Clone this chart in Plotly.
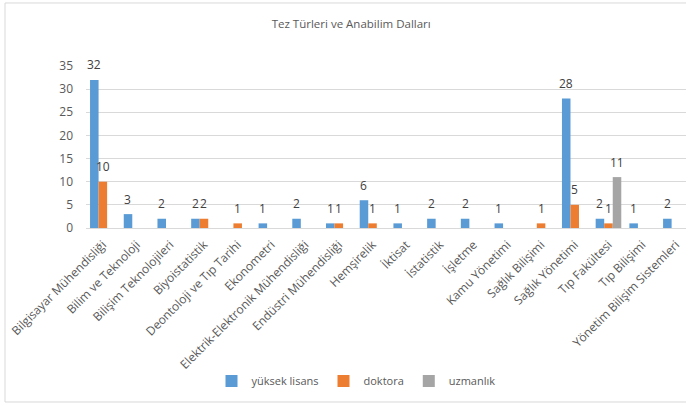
import plotly.graph_objects as go

categories = [
    "Bilgisayar Mühendisliği", "Bilim ve Teknoloji", "Bilişim Teknolojileri",
    "Biyoistatistik", "Deontoloji ve Tıp Tarihi", "Ekonometri",
    "Elektrik-Elektronik Mühendisliği", "Endüstri Mühendisliği", "Hemşirelik",
    "İktisat", "İstatistik", "İşletme", "Kamu Yönetimi", "Sağlık Bilişimi",
    "Sağlık Yönetimi", "Tıp Fakültesi", "Tıp Bilişimi", "Yönetim Bilişim Sistemleri",
]
yuksek_lisans = [32, 3, 2, 2, None, 1, 2, 1, 6, 1, 2, 2, 1, None, 28, 2, 1, 2]
doktora = [10, None, None, 2, 1, None, None, 1, 1, None, None, None, None, 1, 5, 1, None, None]
uzmanlik = [None] * 15 + [11, None, None]

series = [
    ("yüksek lisans", yuksek_lisans, "#5B9BD5"),
    ("doktora", doktora, "#ED7D31"),
    ("uzmanlık", uzmanlik, "#A5A5A5"),
]

FONT = "Open Sans"
TXT = "#595959"

fig = go.Figure()
annotations = []
slot_px = 8.6
for i, (name, vals, color) in enumerate(series):
    fig.add_trace(go.Bar(
        x=categories, y=vals, name=name,
        marker=dict(color=color, line=dict(width=0)),
    ))
    for cat, v in zip(categories, vals):
        if v is None:
            continue
        annotations.append(dict(
            x=cat, y=v, xref="x", yref="y", text=str(v), showarrow=False,
            xshift=(i - 1) * slot_px, yshift=15, yanchor="middle",
            font=dict(family=FONT, size=12, color="#404040"),
        ))

fig.update_layout(
    width=686, height=404,
    margin=dict(l=86, r=0, t=66, b=176, autoexpand=False),
    paper_bgcolor="white", plot_bgcolor="white",
    barmode="group", bargap=0.24, bargroupgap=0,
    font=dict(family=FONT, color=TXT),
    title=dict(text="Tez Türleri ve Anabilim Dalları", x=0.512, xref="container",
               xanchor="center", y=0.94, yanchor="middle",
               font=dict(family=FONT, size=11.5, color=TXT)),
    xaxis=dict(range=[-0.5, 17.3], tickangle=-45, automargin=False,
               tickfont=dict(family=FONT, size=12, color=TXT),
               showline=True, linecolor="#D9D9D9", linewidth=1,
               showgrid=False, ticks="", ticklabelstandoff=4),
    yaxis=dict(range=[0, 35], dtick=5, automargin=False,
               tickfont=dict(family=FONT, size=12, color=TXT),
               gridcolor="#D9D9D9", gridwidth=1, zeroline=False,
               showline=False, ticklabelstandoff=12),
    legend=dict(orientation="h", x=0.45, xanchor="center", y=-0.944, yanchor="middle",
                font=dict(family=FONT, size=11, color=TXT), itemwidth=30,
                bgcolor="rgba(0,0,0,0)"),
    annotations=annotations,
    shapes=[dict(type="rect", xref="paper", yref="paper",
                 x0=-0.135, x1=1.05, y0=-1.074, y1=1.389,
                 line=dict(color="#D9D9D9", width=1), fillcolor="rgba(0,0,0,0)",
                 layer="below")],
)

fig.write_html("out.html")
